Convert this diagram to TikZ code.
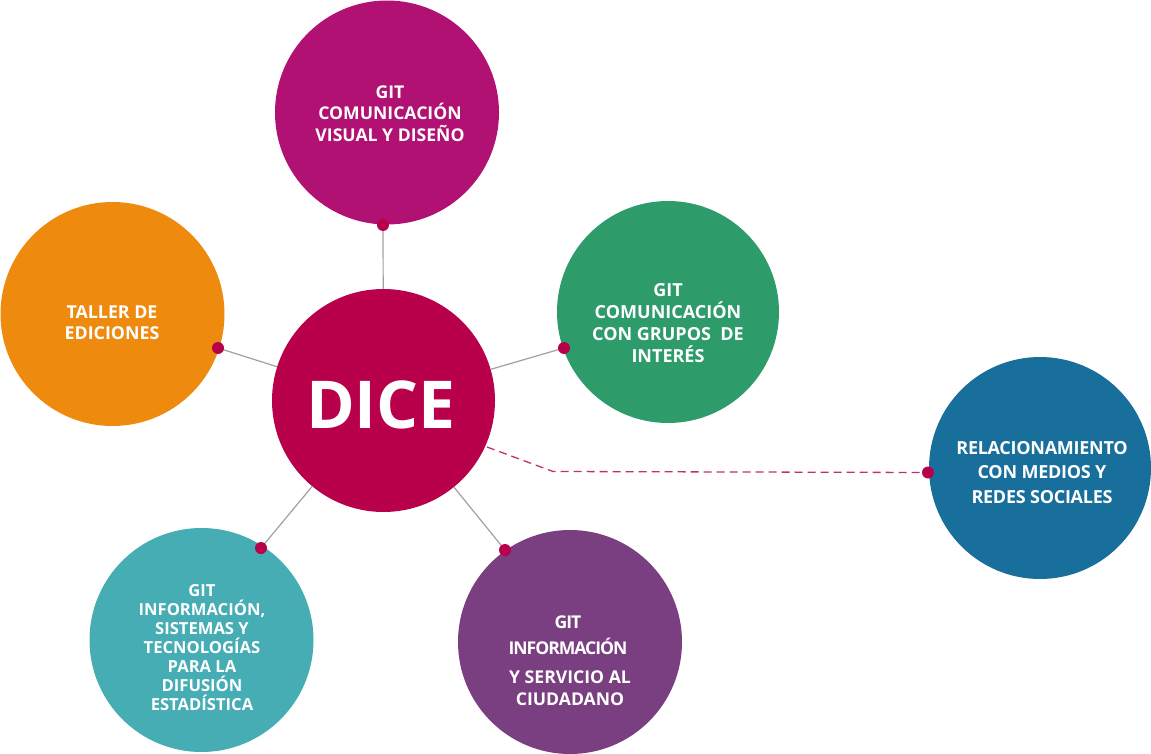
\documentclass[tikz,border=0pt]{standalone}
\usepackage{fontspec}
\setmainfont{Open Sans}
\definecolor{cTop}{HTML}{B01173}
\definecolor{cOrange}{HTML}{EE8B0F}
\definecolor{cDice}{HTML}{B8004B}
\definecolor{cGreen}{HTML}{2E9B6B}
\definecolor{cBlue}{HTML}{186F9C}
\definecolor{cTeal}{HTML}{45ADB3}
\definecolor{cPurple}{HTML}{7A3F80}
\definecolor{cLine}{HTML}{A0A0A0}
\definecolor{cDash}{HTML}{C0306E}
\begin{document}
\begin{tikzpicture}[x=1pt,y=-1pt,
  bubble/.style={circle,minimum size=224pt,inner sep=0pt},
  label/.style={text=white,font=\bfseries\fontsize{17.6}{21.5}\selectfont,align=center,inner sep=0pt},
  dotmark/.style={circle,fill=cDice,minimum size=12pt,inner sep=0pt},
  link/.style={draw=cLine,line width=1.2pt},
  dashlink/.style={draw=cDash,line width=1.3pt,dash pattern=on 8pt off 5pt}]
\useasboundingbox (0,0) rectangle (1151,754);
% circles
\node[bubble,fill=cTop] (top) at (387,112.5) {};
\node[bubble,fill=cOrange] (orange) at (112.5,314) {};
\node[bubble,fill=cDice,minimum size=223pt] (dice) at (383.5,400.5) {};
\node[bubble,fill=cGreen,minimum size=222pt] (green) at (668,312) {};
\node[bubble,fill=cBlue,minimum size=222pt] (blue) at (1040,468) {};
\node[bubble,fill=cTeal] (teal) at (201.5,640) {};
\node[bubble,fill=cPurple] (purple) at (570,642) {};
% texts
\node[label] (tTop) at (390,113.5) {GIT\\COMUNICACIÓN\\VISUAL Y DISEÑO};
\node[label,font=\bfseries\fontsize{17.8}{21.5}\selectfont] (tOrange) at (112,322.5) {TALLER DE\\EDICIONES};
\node[text=white,font=\bfseries\fontsize{66}{66}\selectfont,inner sep=0pt] (tDice) at (381,405) {DICE};
\node[label,font=\bfseries\fontsize{18}{21.8}\selectfont] (tGreen) at (668,323) {GIT\\COMUNICACIÓN\\CON GRUPOS\ \ DE\\INTERÉS};
\node[label,font=\bfseries\fontsize{18}{24.5}\selectfont] (tBlue) at (1042,472.5) {{\addfontfeature{LetterSpace=-1.5}RELACIONAMIENTO}\\{\addfontfeature{LetterSpace=-1.5}CON MEDIOS Y}\\{\addfontfeature{LetterSpace=-1.5}REDES SOCIALES}};
\node[label,font=\bfseries\fontsize{16.6}{19}\selectfont] (tTeal) at (202,648) {GIT\\INFORMACIÓN,\\SISTEMAS Y\\TECNOLOGÍAS\\PARA LA\\DIFUSIÓN\\ESTADÍSTICA};
\node[label,font=\bfseries\fontsize{17.6}{26}\selectfont] (tPurple) at (568,635) {{\addfontfeature{LetterSpace=-6}GIT}\\{\addfontfeature{LetterSpace=-6}INFORMACIÓN}};
\node[label,font=\bfseries\fontsize{17.6}{21.5}\selectfont] (tPurple2) at (570,688) {Y SERVICIO AL\\CIUDADANO};
% connector points
\coordinate (p1) at (383,225);
\coordinate (p2) at (218,348);
\coordinate (p3) at (564,348);
\coordinate (p4) at (261,548);
\coordinate (p5) at (505,550);
\coordinate (p6) at (928,472.5);
\coordinate (bend) at (553,471.5);
\coordinate (dstart) at (487,447);
\draw[link] (p1) -- (dice);
\draw[link] (p2) -- (dice);
\draw[link] (p3) -- (dice);
\draw[link] (p4) -- (dice);
\draw[link] (p5) -- (dice);
\draw[dashlink] (dstart) -- (bend) -- (p6);
\node[dotmark] (d1) at (p1) {};
\node[dotmark] (d2) at (p2) {};
\node[dotmark] (d3) at (p3) {};
\node[dotmark] (d4) at (p4) {};
\node[dotmark] (d5) at (p5) {};
\node[dotmark] (d6) at (p6) {};
\end{tikzpicture}
\end{document}
